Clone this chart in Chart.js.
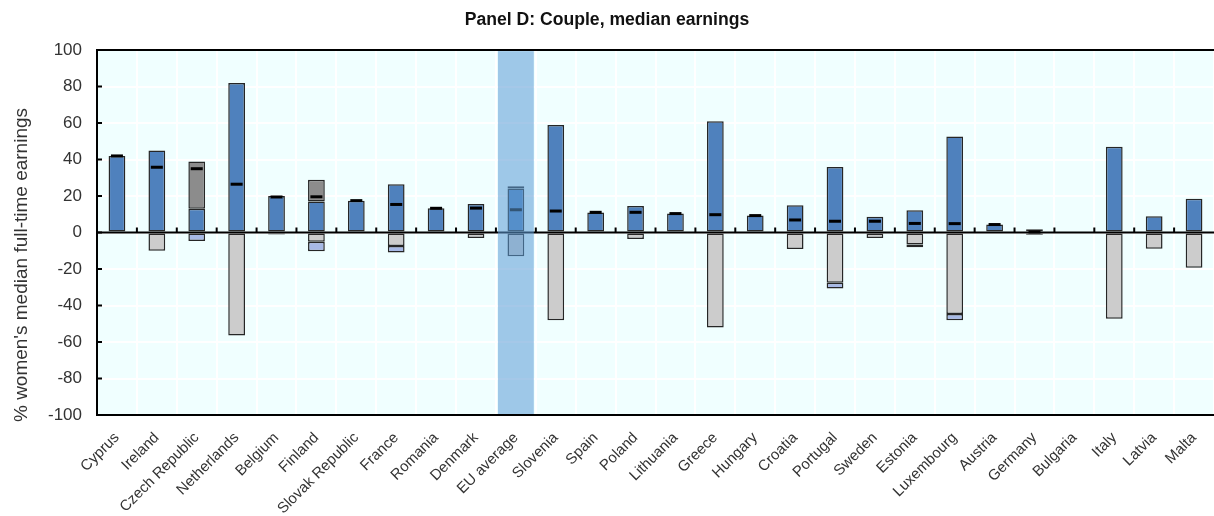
<!DOCTYPE html>
<html>
<head>
<meta charset="utf-8">
<title>Panel D: Couple, median earnings</title>
<script src="https://cdn.jsdelivr.net/npm/chart.js@4.4.1/dist/chart.umd.min.js"></script>
<style>
  html, body { margin: 0; padding: 0; background: #fff; }
  #wrap { width: 1214px; height: 516px; }
</style>
</head>
<body>
<div id="wrap"><canvas id="chart" width="1214" height="516"></canvas></div>
<script>
// 国ごとのデータ（%）
const countries = ['Cyprus', 'Ireland', 'Czech Republic', 'Netherlands', 'Belgium', 'Finland',
    'Slovak Republic', 'France', 'Romania', 'Denmark', 'EU average', 'Slovenia', 'Spain', 'Poland',
    'Lithuania', 'Greece', 'Hungary', 'Croatia', 'Portugal', 'Sweden', 'Estonia', 'Luxembourg',
    'Austria', 'Germany', 'Bulgaria', 'Italy', 'Latvia', 'Malta'];

// プラス側（青）
const bluePos = [42, 45, 13, 82, 20, 17, 17.5, 26.5, 13.3, 15.6, 24.2, 59, 11, 14.5,
    10.4, 61, 9.3, 15, 36, 8.7, 12.2, 52.7, 4.4, 1.8, null, 47, 8.9, 18.6];
// プラス側（濃いグレー、青の上に積む）
const greyPos = [null, null, 26, null, null, 12, null, null, null, null, 1.2, null, null, null,
    null, null, null, null, null, null, null, null, null, null, null, null, null, null];
// マイナス側（薄いグレー）
const greyNeg = [null, -10, null, -56.4, -1, -5, null, -7.3, null, -3, -13, -48, null, -3.5,
    null, -52, null, -9, -27.5, -3, -6.5, -44.7, null, -1.2, null, -47.3, -8.9, -19.3];
// マイナス側（薄い青、グレーの下に積む）
const lilacNeg = [null, null, -4.6, null, null, -5.2, null, -3.6, null, null, null, null, null, null,
    null, null, null, null, -3.1, null, -1.5, -3.3, null, null, null, null, null, null];
// 合計（黒いマーカー）
const netTotal = [42, 35.8, 35, 26.5, 19.5, 19.6, 17.5, 15.4, 13.3, 13.4, 12.5, 11.8, 11.1, 11.1,
    10.4, 9.8, 9.3, 6.9, 6.2, 6.2, 5, 4.9, 4.4, 0.3, null, null, null, null];

const yTicks = [-100, -80, -60, -40, -20, 0, 20, 40, 60, 80, 100];
const highlight = 'EU average';

const FONT = "'Liberation Sans', Arial, sans-serif";
const TEXT = '#333333';

// プロット領域の背景・枠・ゼロ線・EU平均の帯
const decorations = {
    id: 'decorations',
    beforeDraw(chart) {
        const { ctx, chartArea: a } = chart;
        ctx.save();
        ctx.fillStyle = '#F0FFFF';
        ctx.fillRect(a.left, a.top, a.right - a.left, a.bottom - a.top);
        ctx.restore();
    },
    afterDatasetsDraw(chart) {
        const { ctx, chartArea: a, scales: { x, y } } = chart;
        const y0 = y.getPixelForValue(0);
        const step = x.getPixelForValue(1) - x.getPixelForValue(0);
        ctx.save();
        // ゼロ線と目盛り
        ctx.strokeStyle = '#000';
        ctx.lineWidth = 2;
        ctx.beginPath();
        ctx.moveTo(a.left, y0);
        ctx.lineTo(a.right, y0);
        ctx.stroke();
        ctx.beginPath();
        for (let i = 1; i < countries.length; i++) {
            const px = x.getPixelForValue(i) - step / 2;
            ctx.moveTo(px, y0);
            ctx.lineTo(px, y0 - 5);
        }
        // 縦軸の内向き目盛り
        yTicks.forEach(v => {
            const py = y.getPixelForValue(v);
            ctx.moveTo(a.left, py);
            ctx.lineTo(a.left + 5, py);
        });
        ctx.stroke();
        // 上の枠線
        ctx.beginPath();
        ctx.moveTo(a.left, a.top);
        ctx.lineTo(a.right, a.top);
        ctx.stroke();
        // EU平均の帯
        const i = countries.indexOf(highlight);
        const cx = x.getPixelForValue(i);
        ctx.fillStyle = 'rgba(91, 155, 213, 0.55)';
        ctx.fillRect(cx - step / 2 + 2, a.top + 1, step - 4, a.bottom - a.top - 2);
        ctx.restore();
    },
    afterDraw(chart) {
        const { ctx } = chart;
        ctx.save();
        ctx.translate(22, 265);
        ctx.rotate(-Math.PI / 2);
        ctx.fillStyle = TEXT;
        ctx.font = '19px ' + FONT;
        ctx.textAlign = 'center';
        ctx.textBaseline = 'middle';
        ctx.fillText("% women's median full-time earnings", 0, 0);
        ctx.restore();
    }
};

const barStyle = { borderColor: '#262626', borderWidth: 1.5, borderSkipped: false,
    barPercentage: 0.42, categoryPercentage: 1 };

const ctx = document.getElementById('chart').getContext('2d');
new Chart(ctx, {
    type: 'bar',
    data: {
        labels: countries,
        datasets: [
            { type: 'line', data: netTotal, stack: 'net', showLine: false, pointStyle: 'line',
              pointRadius: 6, pointHoverRadius: 6, borderColor: '#000', borderWidth: 3, order: 0 },
            { data: bluePos, backgroundColor: '#4F81BD', stack: 'parts', order: 1, ...barStyle },
            { data: greyPos, backgroundColor: '#8C8C8C', stack: 'parts', order: 1, ...barStyle },
            { data: greyNeg, backgroundColor: '#CCCCCC', stack: 'parts', order: 1, ...barStyle },
            { data: lilacNeg, backgroundColor: '#A7B9E6', stack: 'parts', order: 1, ...barStyle }
        ]
    },
    options: {
        responsive: false,
        animation: false,
        devicePixelRatio: 1,
        layout: { padding: 0, autoPadding: false },
        plugins: {
            legend: { display: false },
            tooltip: { enabled: false },
            title: {
                display: true,
                text: 'Panel D: Couple, median earnings',
                color: '#111',
                font: { family: FONT, size: 17.6, weight: 'bold' },
                padding: { top: 10, bottom: 19 }
            }
        },
        scales: {
            x: {
                stacked: true,
                grid: { offset: true, color: '#FFFFFF', lineWidth: 2, drawTicks: false },
                border: { display: true, color: '#000', width: 2 },
                ticks: { color: TEXT, font: { family: FONT, size: 15 }, minRotation: 45, maxRotation: 45,
                    autoSkip: false, padding: 14 },
                afterFit(scale) {
                    scale.height = 101;
                    scale.paddingLeft = 0;
                    scale.paddingRight = 0;
                }
            },
            y: {
                stacked: true,
                min: -100,
                max: 100,
                afterBuildTicks(scale) { scale.ticks = yTicks.map(v => ({ value: v })); },
                grid: { color: '#FFFFFF', lineWidth: 2, drawTicks: false },
                border: { display: true, color: '#000', width: 2 },
                ticks: { color: TEXT, font: { family: FONT, size: 17 }, padding: 15 },
                afterFit(scale) { scale.width = 97; }
            }
        }
    },
    plugins: [decorations]
});
</script>
</body>
</html>
